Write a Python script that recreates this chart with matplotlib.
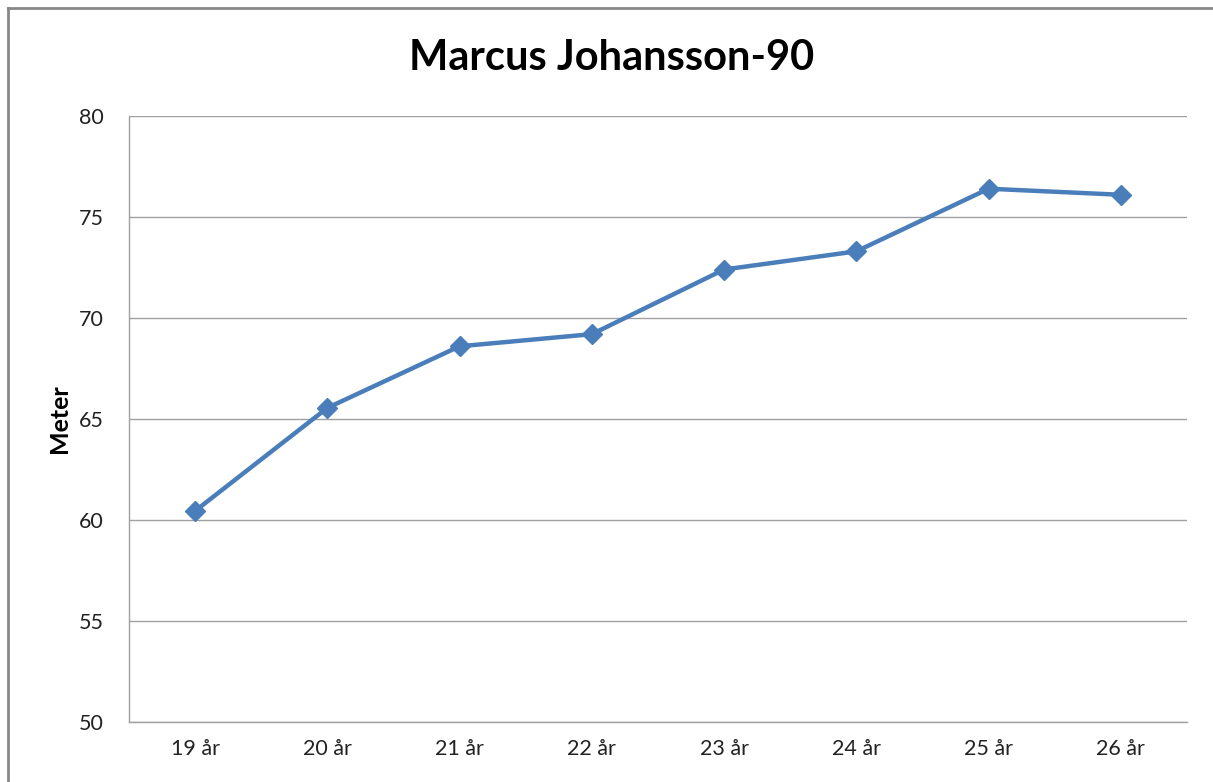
import matplotlib
matplotlib.use('Agg')
import matplotlib.pyplot as plt
from matplotlib.lines import Line2D

# data
ages = ['19 år', '20 år', '21 år', '22 år', '23 år', '24 år', '25 år', '26 år']
meters = [60.45, 65.55, 68.6, 69.2, 72.4, 73.3, 76.4, 76.1]
yticks = [50, 55, 60, 65, 70, 75, 80]

plt.rcParams['font.family'] = ['Lato', 'DejaVu Sans']

fig = plt.figure(figsize=(12.13, 7.82), dpi=100)
ax = fig.add_axes([129 / 1213, 1 - 722 / 782, 1058 / 1213, 606 / 782])

# outer chart border: only the top and left edges fall inside the picture
bx, by = 8 / 1213, 1 - 8 / 782
fig.lines.append(Line2D([bx, 1.0], [by, by], transform=fig.transFigure,
                        color='#878787', linewidth=2))
fig.lines.append(Line2D([bx, bx], [0.0, by], transform=fig.transFigure,
                        color='#878787', linewidth=2))

x = range(len(ages))
ax.plot(x, meters, color='#4A7EBB', linewidth=3.2, marker='D', markersize=10,
        markerfacecolor='#4A7EBB', markeredgecolor='#4A7EBB')

ax.set_xlim(-0.5, len(ages) - 0.5)
ax.set_ylim(50, 80)
ax.set_yticks(yticks)
ax.set_xticks(list(x))
ax.set_xticklabels(ages)
ax.yaxis.grid(True, color='#A0A0A0', linewidth=1)
ax.set_axisbelow(True)

for side in ['top', 'right']:
    ax.spines[side].set_visible(False)
for side in ['left', 'bottom']:
    ax.spines[side].set_color('#A0A0A0')
    ax.spines[side].set_linewidth(1)

ax.tick_params(axis='both', length=0, labelsize=15.5, colors='#222222')
ax.tick_params(axis='y', pad=18)
ax.tick_params(axis='x', pad=12)

ax.set_ylabel('Meter', fontsize=18, fontweight='bold', labelpad=6)
fig.text(612 / 1213, 1 - 58 / 782, 'Marcus Johansson-90', ha='center', va='center',
         fontsize=30, fontweight='bold')

plt.savefig('out.png', dpi=100)
plt.close(fig)
